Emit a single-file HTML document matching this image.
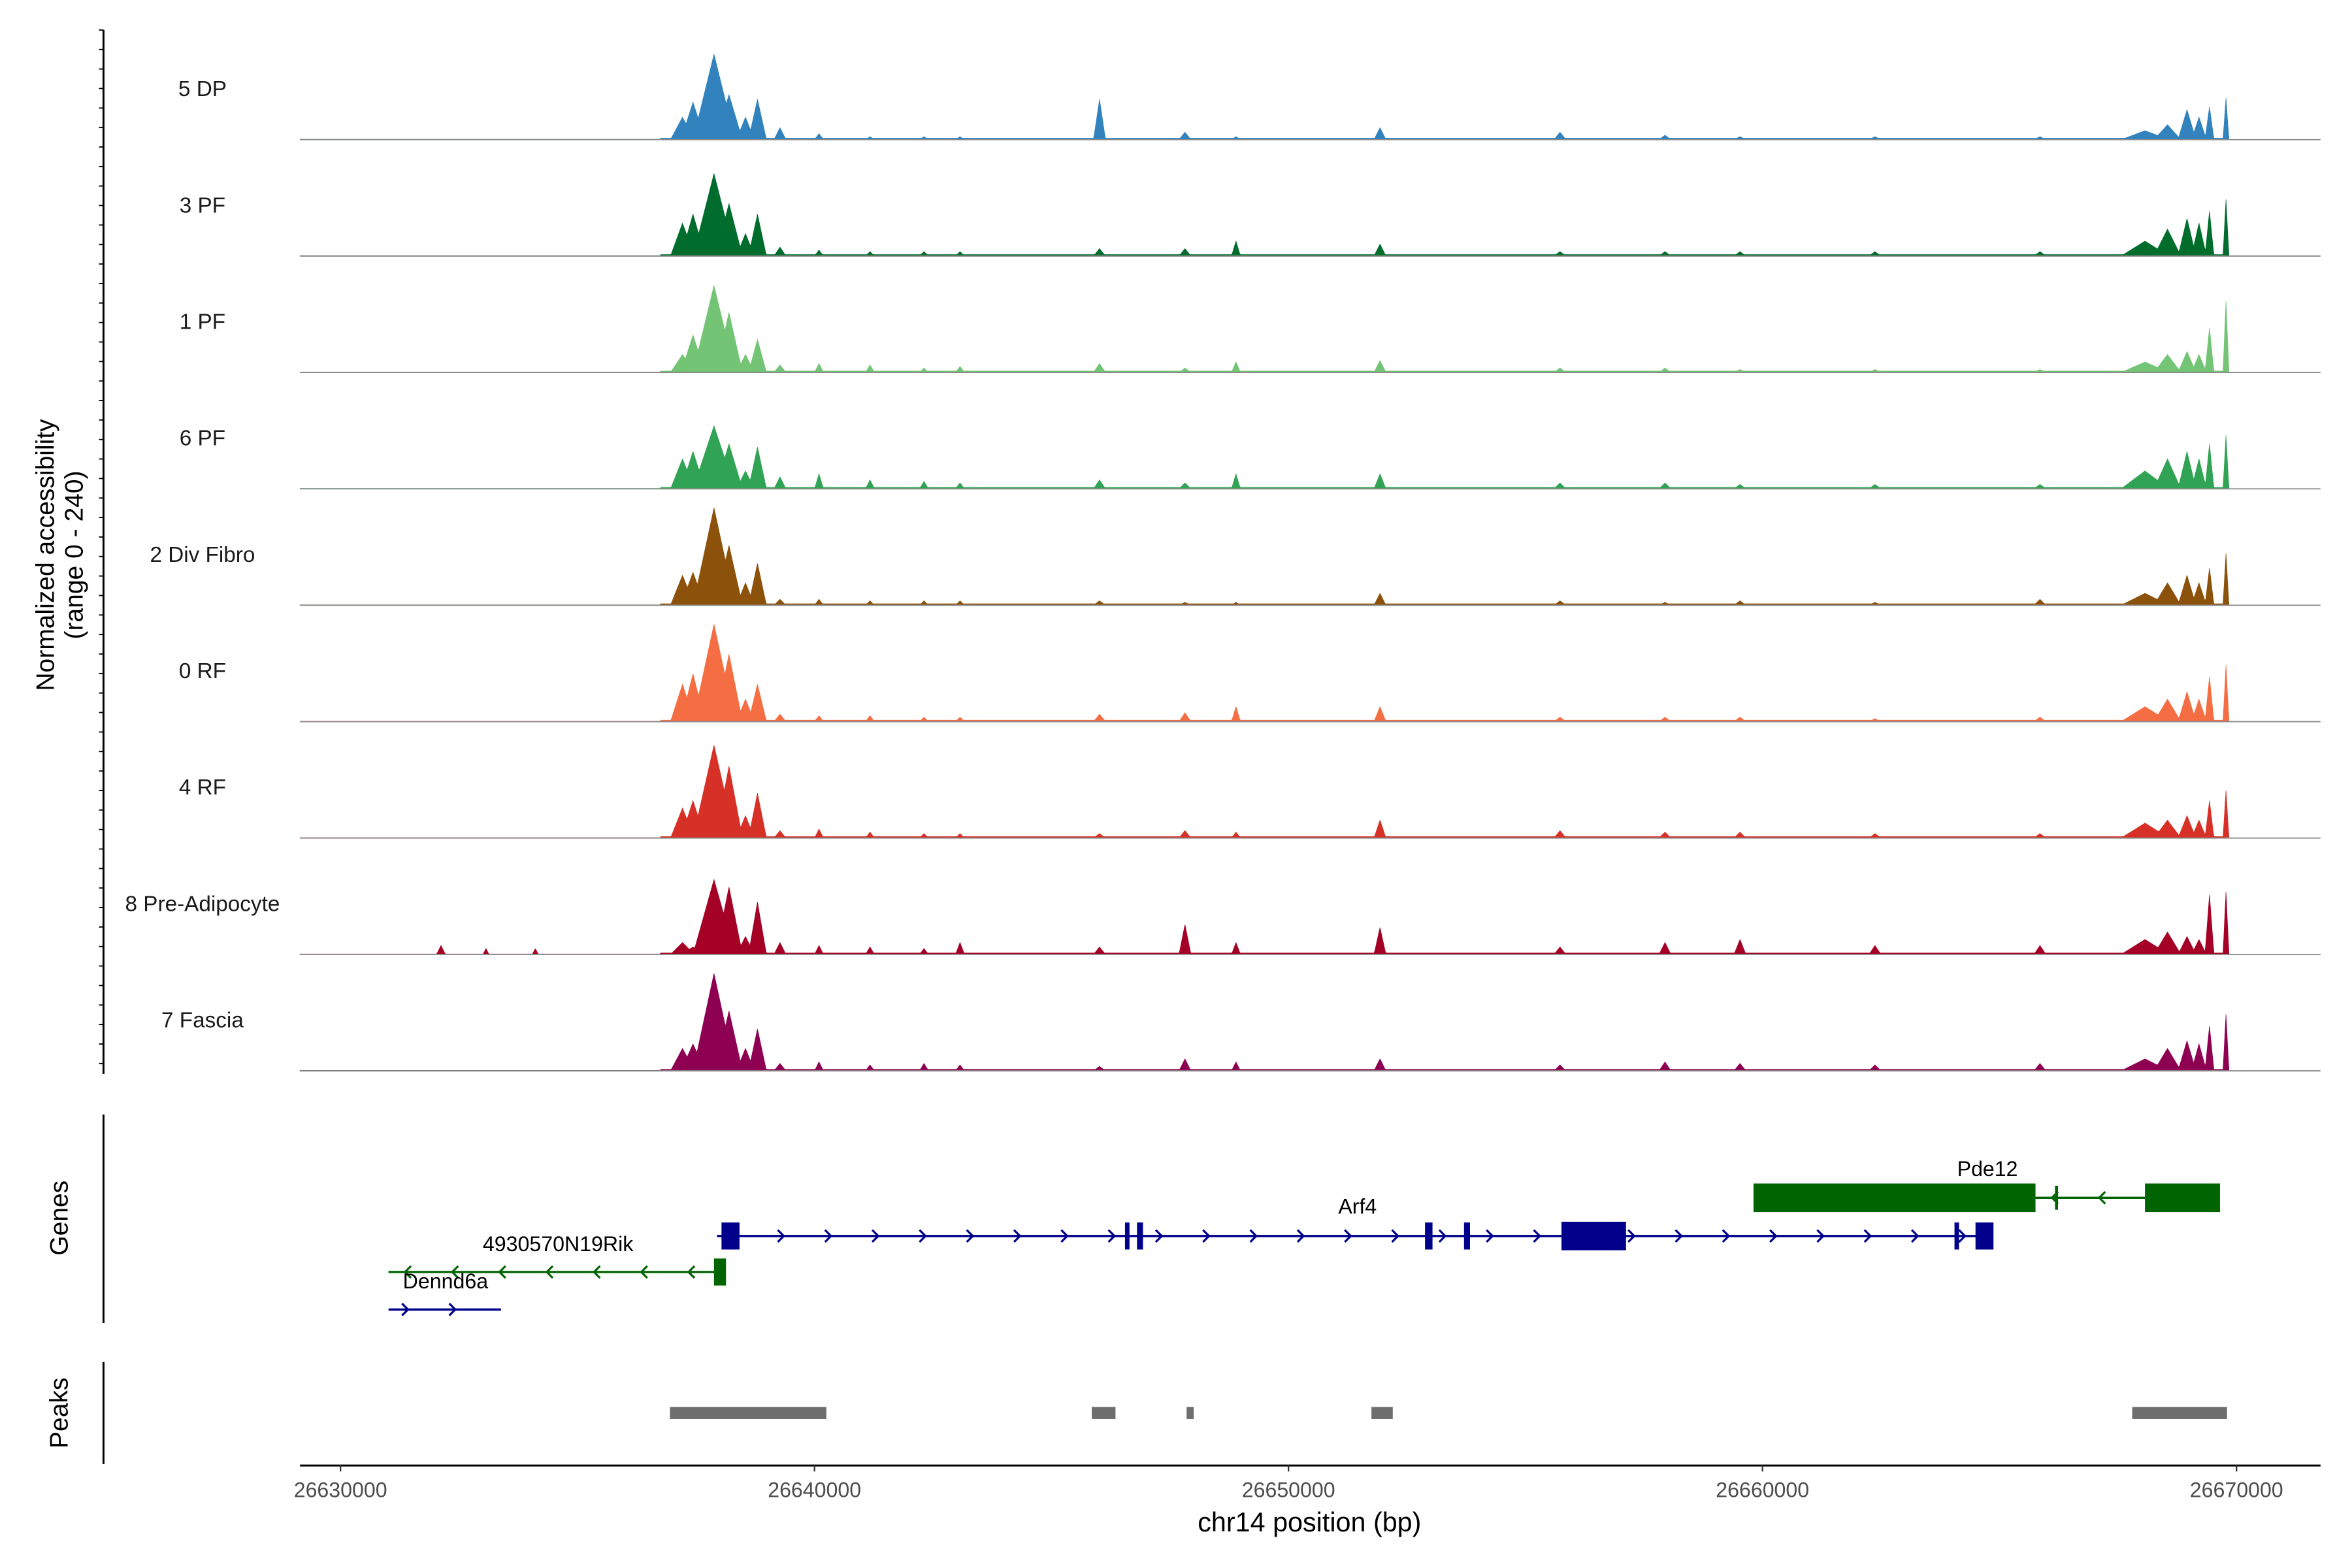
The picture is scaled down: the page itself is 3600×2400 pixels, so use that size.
<!DOCTYPE html>
<html><head><meta charset="utf-8"><style>
html,body{margin:0;padding:0;background:#fff;}
svg{display:block;}
text{font-family:"Liberation Sans",Arial,sans-serif;}
</style></head><body>
<svg id="chart" width="3600" height="2400" viewBox="0 0 1568 1045.33" preserveAspectRatio="none" xmlns="http://www.w3.org/2000/svg">
<rect width="1568" height="1046" fill="#fff"/>
<g id="tracks"></g>
<g id="leftaxis"></g>
<text transform="translate(36,370) rotate(-90)" text-anchor="middle" font-size="17" fill="#000">Normalized accessibility</text>
<text transform="translate(55,370) rotate(-90)" text-anchor="middle" font-size="17" fill="#000">(range 0 - 240)</text>
<line x1="69" y1="743" x2="69" y2="882" stroke="#000" stroke-width="1.3"/>
<text transform="translate(45,812) rotate(-90)" text-anchor="middle" font-size="17">Genes</text>
<line x1="69" y1="908" x2="69" y2="976" stroke="#000" stroke-width="1.3"/>
<text transform="translate(45,942) rotate(-90)" text-anchor="middle" font-size="17">Peaks</text>
<g id="genes"></g>
<g id="peaks"></g>
<g id="xaxis"></g>
<text x="873" y="1021" text-anchor="middle" font-size="18">chr14 position (bp)</text>
</svg>
<script>
const NS="http://www.w3.org/2000/svg";
const trackNames=["5 DP","3 PF","1 PF","6 PF","2 Div Fibro","0 RF","4 RF","8 Pre-Adipocyte","7 Fascia"];
const trackColors=["#3182bd","#006d2c","#74c476","#31a354","#8c510a","#f46d43","#d73027","#a50026","#8e0152"];
const peakPos=[26637215,26637437,26637880,26638196,26638544,26638797,26639272,26640095,26641171,26642310,26643070,26646013,26647816,26648892,26651930,26655728,26657943,26659525,26662373,26665854,26668070,26668544,26668956,26669209,26669430,26669778,26632120,26633070,26634110];
const peakWidth=[8,8,14,9,6,6,4,3,3,3,3,4,4,3,4,4,4,4,4,4,16,9,6,5,3,2,3,2,2];
const heights5DP=[15,25,57,30,15,27,8,4,2,2,2,27,5,2,8,5,3,2,2,2,6,10,20,15,22,28,0,0,0];
const heights3PF=[22,28,55,35,15,28,6,4,3,3,3,5,5,10,8,3,3,3,3,3,10,18,25,22,30,38,0,0,0];
const heights1PF=[12,25,58,40,12,22,5,6,5,3,4,6,3,7,8,3,3,2,2,2,7,12,14,12,30,48,0,0,0];
const heights6PF=[20,25,42,30,12,28,8,10,6,5,4,6,4,10,10,4,4,3,3,3,12,20,25,20,30,36,0,0,0];
const heights2DF=[20,22,65,40,15,28,4,4,3,3,3,3,2,2,8,3,2,3,2,4,8,15,20,15,25,35,0,0,0];
const heights0RF=[25,32,65,45,15,25,5,4,4,3,3,5,6,10,10,3,3,3,2,3,10,15,20,15,30,38,0,0,0];
const heights4RF=[20,25,62,48,15,30,5,6,4,3,3,3,5,4,12,5,4,4,3,3,10,12,15,12,25,32,0,0,0];
const heights8PA=[8,5,50,45,12,35,8,6,5,4,8,5,20,8,18,5,8,10,6,6,10,15,12,10,40,42,6,4,4];
const heights7F=[15,18,65,40,15,28,5,6,4,5,4,3,8,6,8,4,6,5,4,5,8,15,20,18,30,38,0,0,0];
const trackHeights=[heights5DP,heights3PF,heights1PF,heights6PF,heights2DF,heights0RF,heights4RF,heights8PA,heights7F];
const xTicks=[26630000,26640000,26650000,26660000,26670000];
const peakRegions=[[26636950,26640250],[26645850,26646350],[26647850,26648000],[26651750,26652200],[26667800,26669800]];

const X0=227,BP0=26630000,PXBP=1264/40000;
const xs=bp=>X0+(bp-BP0)*PXBP;
const top0=16,trackH=77.6,trackStart=200,trackEnd=1486;
function mk(tag,attrs,parent){const e=document.createElementNS(NS,tag);for(const k in attrs)e.setAttribute(k,attrs[k]);if(parent)parent.appendChild(e);return e;}

const tg=document.getElementById('tracks');
trackNames.forEach((name,i)=>{
  const base=top0+trackH*(i+1)-0.5;
  const g=mk('g',{},tg);
  
  
  const h=trackHeights[i];
  let d=`M${trackStart},${base}`;
  for(let x=trackStart;x<=trackEnd;x+=0.5){
    let v=(x>440)?1:0.3;
    for(let k=0;k<peakPos.length;k++){
      const c=xs(peakPos[k]),w=peakWidth[k],dx=Math.abs(x-c);
      if(dx<w){const t=h[k]*(1-dx/w);if(t>v)v=t;}
    }
    d+=`L${x},${base-v}`;
  }
  d+=`L${trackEnd},${base}Z`;
  const p=mk('path',{d:d,fill:trackColors[i],stroke:trackColors[i],'stroke-width':0.3},g);
  
  
  const l=mk('line',{x1:trackStart,y1:base,x2:1547,y2:base,stroke:'#8a8a8a','stroke-width':0.8},g);
  
  
  const t=mk('text',{x:135,y:base-29,'text-anchor':'middle','font-size':14.5,fill:'#1a1a1a'},g);
  t.textContent=name;
  
  
});

const la=document.getElementById('leftaxis');
mk('line',{x1:69,y1:20,x2:69,y2:716,stroke:'#000','stroke-width':1.3},la);
for(let y=20;y<=716;y+=13){mk('line',{x1:66,y1:y,x2:69,y2:y,stroke:'#000','stroke-width':0.8},la);}

const gg=document.getElementById('genes');
function gene(name,y,x1,x2,dir,color,boxes,lx,ly){
  const g=mk('g',{},gg);
  
  
  mk('line',{x1:x1,y1:y,x2:x2,y2:y,stroke:color,'stroke-width':1.5},g);
  for(let x=x1+12;x<x2-4;x+=31.5){
    const s=dir>0?`M${x-3},${y-4}L${x+1},${y}L${x-3},${y+4}`:`M${x+3},${y-4}L${x-1},${y}L${x+3},${y+4}`;
    mk('path',{d:s,fill:'none',stroke:color,'stroke-width':1.4},g);
  }
  boxes.forEach(b=>mk('rect',{x:b[0],y:y-b[2]/2,width:b[1]-b[0],height:b[2],fill:color},g));
  const t=mk('text',{x:lx,y:ly,'text-anchor':'middle','font-size':14},g);t.textContent=name;
}
gene('Pde12',798.5,1357,1430,-1,'#006400',[[1169,1357,19],[1430,1480,19],[1370,1372,16]],1325,784);
gene('Arf4',824,478,1328,1,'#00008b',[[481,493,18],[750,753,18],[758,762,18],[950,955,18],[976,980,18],[1041,1084,19],[1303,1306,18],[1317,1329,18]],905,809);
gene('4930570N19Rik',848,259,481,-1,'#006400',[[476,484,18]],372,834);
gene('Dennd6a',873,259,334,1,'#00008b',[],297,859);

const pg=document.getElementById('peaks');
peakRegions.forEach(r=>{
  const e=mk('rect',{x:xs(r[0]),y:938,width:Math.max(4,xs(r[1])-xs(r[0])),height:8,fill:'#6e6e6e'},pg);
  
  
});

const xa=document.getElementById('xaxis');
mk('line',{x1:200,y1:977,x2:1547,y2:977,stroke:'#000','stroke-width':1.3},xa);
xTicks.forEach(v=>{
  const x=xs(v);
  mk('line',{x1:x,y1:977,x2:x,y2:981,stroke:'#333','stroke-width':1},xa);
  const t=mk('text',{x:x,y:998,'text-anchor':'middle','font-size':14,fill:'#4d4d4d'},xa);
  t.textContent=String(v);
  
  
});
</script>
</body></html>
